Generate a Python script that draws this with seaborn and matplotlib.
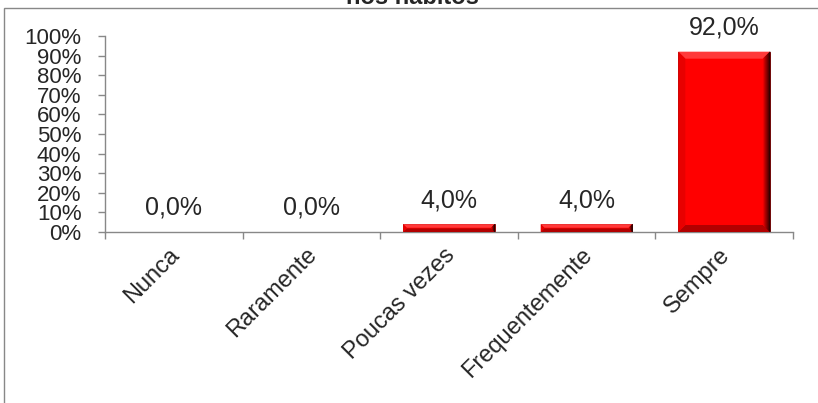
import matplotlib
matplotlib.use("Agg")
import matplotlib.pyplot as plt
import seaborn as sns
import pandas as pd
import numpy as np
from matplotlib.patches import Rectangle, Polygon
from matplotlib.colors import to_rgb

categories = ["Nunca", "Raramente", "Poucas vezes", "Frequentemente", "Sempre"]
values = [0.0, 0.0, 4.0, 4.0, 92.0]
value_labels = ["0,0%", "0,0%", "4,0%", "4,0%", "92,0%"]
yticks = [0, 10, 20, 30, 40, 50, 60, 70, 80, 90, 100]
ytick_labels = [f"{v}%" for v in yticks]
title_text = "nos hábitos"

sns.set_theme(style="white")
plt.rcParams['font.family'] = ['Liberation Sans', 'DejaVu Sans']

W, H = 818, 403
fig = plt.figure(figsize=(W / 100, H / 100), dpi=100)
ax_l, ax_b, ax_w, ax_h = 105, 232, 793 - 105, 196
ax = fig.add_axes([ax_l / W, 1 - ax_b / H, ax_w / W, ax_h / H])

df = pd.DataFrame({"cat": categories, "val": values})
sns.barplot(data=df, x="cat", y="val", ax=ax, color="#FF0000", width=0.667,
            edgecolor="#8a0000", linewidth=0.6, saturation=1)

ax.set_ylim(0, 100)
ax.set_xlim(-0.5, len(categories) - 0.5)
ax.set_yticks(yticks)
ax.set_yticklabels(ytick_labels, fontsize=16)
ax.set_xlabel("")
ax.set_ylabel("")

# bevel effect on bars (derived from the bar patches drawn by seaborn)
px_x = ax_w / len(categories)   # pixels per category unit
px_y = ax_h / 100.0             # pixels per percent
red = np.array(to_rgb("#FF0000"))
for p in list(ax.patches):
    x0, y0 = p.get_x(), p.get_y()
    w, h = p.get_width(), p.get_height()
    if h <= 0:
        continue
    bpx = min(7.0, h * px_y / 2.2)
    bx = bpx / px_x
    by = bpx / px_y
    x1, y1 = x0 + w, y0 + h
    ax.add_patch(Polygon([(x0, y1), (x1, y1), (x1 - bx, y1 - by), (x0 + bx, y1 - by)],
                         closed=True, facecolor="#ff3a3a", edgecolor="none", zorder=3))
    ax.add_patch(Polygon([(x0, y0), (x1, y0), (x1 - bx, y0 + by), (x0 + bx, y0 + by)],
                         closed=True, facecolor="#b30000", edgecolor="none", zorder=3))
    ax.add_patch(Polygon([(x0, y0), (x0 + bx, y0 + by), (x0 + bx, y1 - by), (x0, y1)],
                         closed=True, facecolor="#e80000", edgecolor="none", zorder=3))
    n = 8
    for k in range(n):
        f0, f1 = k / n, (k + 1) / n
        t = (k + 0.5) / n
        col = red * (1 - 0.9 * t)
        xa = x1 - bx + bx * f0
        xb = x1 - bx + bx * f1
        ya0 = y0 + by * (1 - f0)
        yb0 = y0 + by * (1 - f1)
        ya1 = y1 - by * (1 - f0)
        yb1 = y1 - by * (1 - f1)
        ax.add_patch(Polygon([(xa, ya0), (xb, yb0), (xb, yb1), (xa, ya1)],
                             closed=True, facecolor=col, edgecolor=col, linewidth=0.3, zorder=3))

# x ticks at category boundaries; labels on (slightly offset) minor ticks
label_offset = -0.04
ax.set_xticks([i - 0.5 for i in range(len(categories) + 1)], minor=False)
ax.set_xticklabels([""] * (len(categories) + 1))
ax.set_xticks([i + label_offset for i in range(len(categories))], minor=True)
ax.set_xticklabels(categories, minor=True, rotation=45, ha="right", va="top",
                   rotation_mode="anchor", fontsize=17)
ax.tick_params(axis="x", which="minor", length=0, pad=8.5)
ax.tick_params(axis="x", which="major", length=5, width=1, color="#888888", direction="out", bottom=True)
ax.tick_params(axis="y", length=5, width=1, color="#888888", direction="out", left=True, pad=12)

for s in ["top", "right"]:
    ax.spines[s].set_visible(False)
for s in ["left", "bottom"]:
    ax.spines[s].set_color("#888888")
    ax.spines[s].set_linewidth(1)

for i, (v, lab) in enumerate(zip(values, value_labels)):
    ax.annotate(lab, (i, v), xytext=(0, 17.3), textcoords="offset points",
                ha="center", va="center", fontsize=18)

# outer frame
fig.patches.append(Rectangle((4 / W, -0.1), 2, 1.1 - 8 / H, transform=fig.transFigure,
                             fill=False, edgecolor="#888888", linewidth=1))

fig.text(412 / W, 1 - 3.5 / H, title_text, ha="center", va="baseline",
         fontsize=17, fontweight="bold")

fig.savefig("out.png", dpi=100)
